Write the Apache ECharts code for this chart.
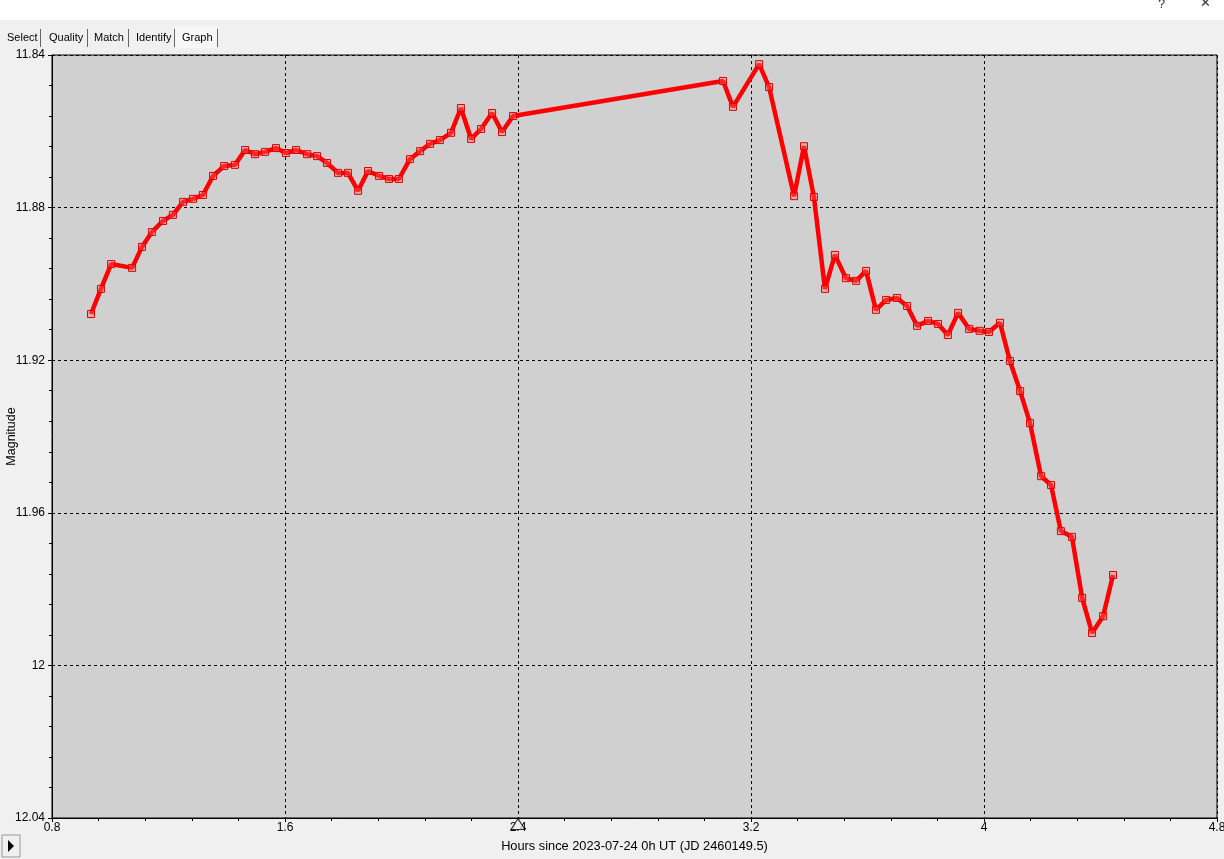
<!DOCTYPE html>
<html>
<head>
<meta charset="utf-8">
<script src="https://cdn.jsdelivr.net/npm/echarts@6/dist/echarts.min.js"></script>
<style>
html,body{margin:0;padding:0;background:#f0f0f0;}
#chart{width:1224px;height:859px;}
</style>
</head>
<body>
<div id="chart"></div>
<script>
// Hours since 2023-07-24 0h UT
var hours = [0.934,0.968,1.003,1.075,1.109,1.143,1.181,1.215,1.250,1.284,1.318,1.353,1.391,1.428,1.463,1.497,1.531,1.569,1.603,1.638,1.676,1.710,1.744,1.782,1.816,1.851,1.885,1.923,1.957,1.991,2.029,2.064,2.098,2.132,2.170,2.204,2.239,2.273,2.311,2.345,2.383,3.104,3.138,3.228,3.262,3.348,3.382,3.416,3.454,3.488,3.526,3.561,3.595,3.629,3.664,3.701,3.736,3.770,3.808,3.842,3.876,3.911,3.949,3.985,4.017,4.055,4.089,4.124,4.158,4.196,4.230,4.264,4.302,4.337,4.371,4.409,4.443];
var magnitude = [11.9079,11.9013,11.8948,11.8958,11.8903,11.8864,11.8835,11.8819,11.8785,11.8777,11.8767,11.8717,11.8691,11.8688,11.8649,11.8660,11.8654,11.8644,11.8657,11.8649,11.8660,11.8665,11.8683,11.8709,11.8709,11.8756,11.8704,11.8717,11.8725,11.8725,11.8673,11.8652,11.8633,11.8623,11.8604,11.8539,11.8620,11.8594,11.8552,11.8602,11.8560,11.8468,11.8536,11.8424,11.8484,11.8770,11.8639,11.8772,11.9013,11.8924,11.8985,11.8992,11.8966,11.9068,11.9042,11.9037,11.9058,11.9110,11.9097,11.9105,11.9134,11.9076,11.9118,11.9123,11.9126,11.9102,11.9202,11.9281,11.9365,11.9504,11.9527,11.9648,11.9663,11.9823,11.9915,11.9871,11.9763];
var xTickLabels = ['0.8','1.6','2.4','3.2','4','4.8'];
var yTickLabels = ['11.84','11.88','11.92','11.96','12','12.04'];
var cursorHour = [2.4];
var tabNames = ['Select','Quality','Match','Identify','Graph'];

var FONT = '"Liberation Sans", Arial, sans-serif';
var chart = echarts.init(document.getElementById('chart'), null, {renderer:'canvas'});

function labelFrom(list, v){
  var best = list[0], bd = Infinity;
  for (var i=0;i<list.length;i++){ var d = Math.abs(parseFloat(list[i]) - v); if (d < bd){bd=d;best=list[i];} }
  return best;
}

var tabX = [4, 46, 91, 133, 179];
var sepX = [40, 87, 128, 174, 217];
var graphics = [
  {type:'rect', shape:{x:0,y:0,width:1224,height:20}, style:{fill:'#ffffff'}, silent:true, z:-10},
  {type:'text', x:1158, y:-2, style:{text:'?', font:'13px '+FONT, fill:'#333'}},
  {type:'text', x:1200, y:-3, style:{text:'\u2715', font:'13px '+FONT, fill:'#333'}},
  {type:'rect', shape:{x:175,y:26,width:42,height:22}, style:{fill:'#f7f7f7'}, z:-5},
  {type:'rect', shape:{x:2,y:835,width:18,height:22}, style:{fill:'#f0f0f0', stroke:'#999', lineWidth:1}},
  {type:'polygon', shape:{points:[[8,840],[8,852],[14,846]]}, style:{fill:'#000'}}
];
for (var i=0;i<tabNames.length;i++){
  graphics.push({type:'text', x:tabX[i]+3, y:32, style:{text:tabNames[i], font:'11px '+FONT, fill:'#000'}});
  graphics.push({type:'line', shape:{x1:sepX[i]+0.5,y1:29,x2:sepX[i]+0.5,y2:47}, style:{stroke:'#666', lineWidth:1}});
}

var option = {
  backgroundColor:'#f0f0f0',
  animation:false,
  graphic: graphics,
  grid:{left:52, top:55, right:7, bottom:41, show:true, backgroundColor:'#d0d0d0', borderColor:'#000', borderWidth:1, containLabel:false, outerBoundsMode:'none'},
  xAxis:{
    type:'value', min:0.8, max:4.8, interval:0.8,
    name:'Hours since 2023-07-24 0h UT (JD 2460149.5)', nameLocation:'middle', nameGap:22, nameMoveOverlap:false,
    nameTextStyle:{fontFamily:FONT, fontSize:12.8, color:'#000'},
    axisLine:{show:true, lineStyle:{color:'#000', width:1}},
    axisTick:{show:true, length:4, lineStyle:{color:'#000'}},
    minorTick:{show:true, splitNumber:5, length:3, lineStyle:{color:'#000'}},
    axisLabel:{fontFamily:FONT, fontSize:12, color:'#000', margin:4, showMaxLabel:true, showMinLabel:true,
      formatter:function(v){return labelFrom(xTickLabels, v);}},
    splitLine:{show:true, lineStyle:{color:'#000', type:[3,3], width:1}}
  },
  yAxis:{
    type:'value', inverse:true, min:11.84, max:12.04, interval:0.04,
    name:'Magnitude', nameLocation:'middle', nameGap:34, nameRotate:90, nameMoveOverlap:false,
    nameTextStyle:{fontFamily:FONT, fontSize:12.5, color:'#000'},
    axisLine:{show:true, lineStyle:{color:'#000', width:1}},
    axisTick:{show:true, length:4, lineStyle:{color:'#000'}},
    minorTick:{show:true, splitNumber:5, length:3, lineStyle:{color:'#000'}},
    axisLabel:{fontFamily:FONT, fontSize:12, color:'#000', margin:7,
      formatter:function(v){return labelFrom(yTickLabels, v);}},
    splitLine:{show:true, lineStyle:{color:'#000', type:[3,3], width:1}}
  },
  series:[
    {
      type:'line',
      data: hours.map(function(h,i){return [h, magnitude[i]];}),
      lineStyle:{color:'#ff0000', width:4.5},
      symbol:'rect', symbolSize:7, showSymbol:true,
      itemStyle:{color:'rgba(255,110,110,0.35)', borderColor:'#e00000', borderWidth:1},
      emphasis:{disabled:true},
      z:3
    },
    {
      type:'scatter',
      data: cursorHour.map(function(h){return [h, 12.04];}),
      symbol:'triangle', symbolSize:[14,11], symbolOffset:[0,6],
      itemStyle:{color:'#f0f0f0', borderColor:'#000', borderWidth:1},
      clip:false, silent:true, z:5
    }
  ]
};
chart.setOption(option);
</script>
</body>
</html>
